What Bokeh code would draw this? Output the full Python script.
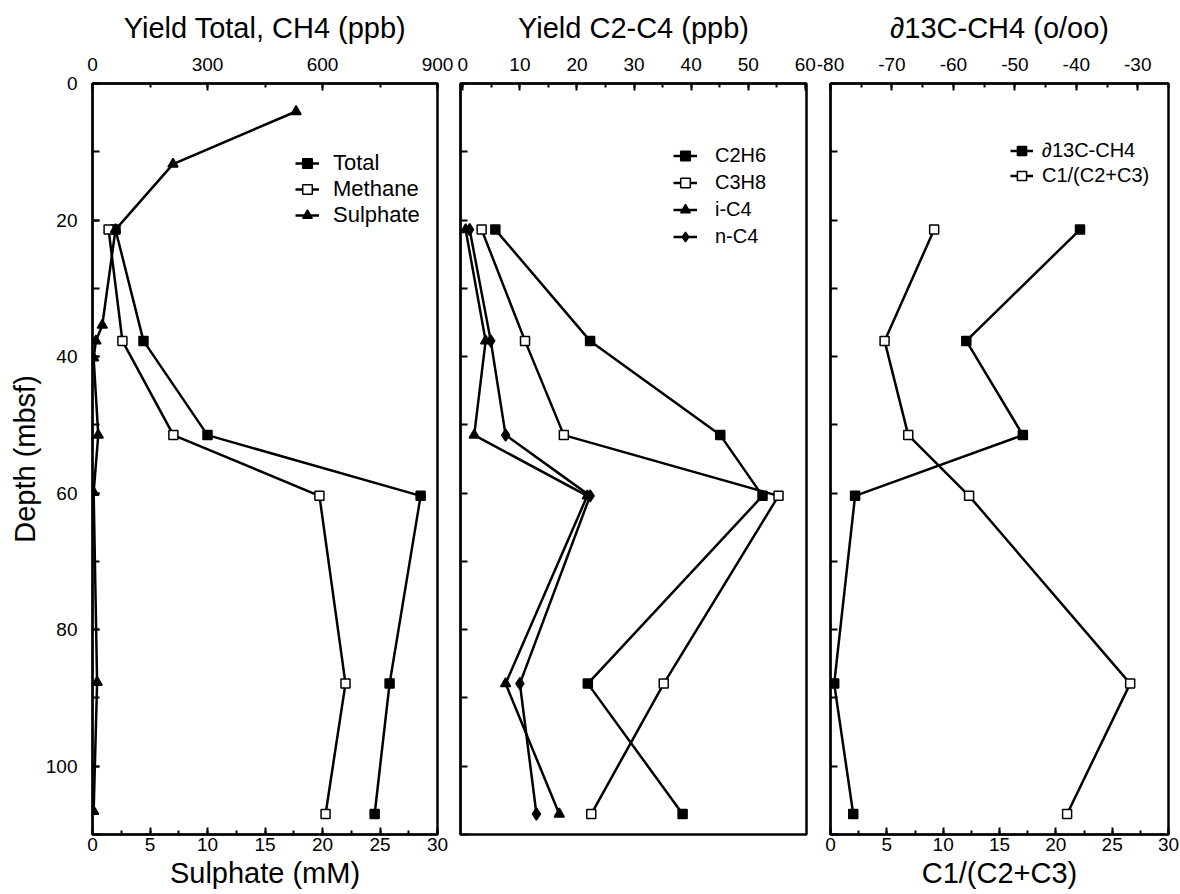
from bokeh.plotting import figure
from bokeh.layouts import row
from bokeh.models import (Range1d, LinearAxis, SingleIntervalTicker, Legend, LegendItem,
                          PrintfTickFormatter, CustomLabelingPolicy)
from bokeh.embed import file_html
from bokeh.resources import INLINE

FONT = "Liberation Sans"

# ---------------- data ----------------
gas_depth = [21.4, 37.7, 51.5, 60.4, 87.9, 107.0]          # mbsf
total_ppb = [60, 133, 300, 856, 775, 736]
methane_ppb = [42, 78, 211, 592, 660, 608]

sulphate_depth = [4.1, 11.8, 21.4, 35.4, 37.7, 40.2, 51.5, 59.9, 87.7, 106.6]
sulphate_mM = [17.7, 7.0, 2.0, 0.85, 0.3, 0.1, 0.5, 0.1, 0.4, 0.1]

c2h6 = [5.7, 22.3, 45.1, 52.5, 21.9, 38.5]
c3h8 = [3.3, 10.9, 17.7, 55.3, 35.2, 22.5]
ic4 = [0.5, 4.0, 2.0, 21.8, 7.5, 16.9]
nc4 = [1.2, 4.9, 7.5, 22.3, 10.0, 12.9]

d13c_ch4 = [-39.4, -57.9, -48.7, -76.0, -79.4, -76.3]
c1_c2c3 = [9.2, 4.8, 6.9, 12.3, 26.6, 21.0]

TITLES = ["Yield Total, CH4 (ppb)", "Yield C2-C4 (ppb)", "\u220213C-CH4 (o/oo)"]


def make_fig(width, left, right, x_range):
    p = figure(width=width, height=894, x_range=x_range, y_range=Range1d(110, 0),
               output_backend="svg", toolbar_location=None,
               x_axis_location=None, y_axis_location=None,
               min_border_left=left, min_border_right=right,
               min_border_top=83, min_border_bottom=60)
    p.grid.visible = False
    p.outline_line_color = "black"
    p.outline_line_width = 2.5
    p.background_fill_color = "white"
    p.border_fill_color = "white"
    return p


def style_axis(ax, tick_in=7, minor_in=4, label_size="19px"):
    ax.major_tick_in = tick_in
    ax.major_tick_out = 0
    ax.minor_tick_in = minor_in
    ax.minor_tick_out = 0
    ax.axis_line_width = 2
    ax.major_tick_line_width = 2
    ax.minor_tick_line_width = 2
    ax.major_label_text_font = FONT
    ax.major_label_text_font_size = label_size
    ax.major_label_text_color = "black"
    ax.axis_label_text_font = FONT
    ax.axis_label_text_font_size = "29px"
    ax.axis_label_text_font_style = "normal"
    ax.axis_label_text_color = "black"
    ax.formatter = PrintfTickFormatter(format="%d")


def top_axis(p, interval, label, range_name="default"):
    ax = LinearAxis(x_range_name=range_name,
                    ticker=SingleIntervalTicker(interval=interval, num_minor_ticks=2),
                    axis_label=label)
    style_axis(ax)
    ax.major_label_standoff = 13
    ax.axis_label_standoff = 11
    p.add_layout(ax, "above")


def bottom_axis(p, label):
    ax = LinearAxis(ticker=SingleIntervalTicker(interval=5, num_minor_ticks=2),
                    axis_label=label)
    style_axis(ax)
    ax.major_label_standoff = 3
    ax.axis_label_standoff = 3
    p.add_layout(ax, "below")


HIDE_ALL = CustomLabelingPolicy(code="""
const n = indices.size;
for (let i = 0; i < n; i++) indices.unset(i);
return indices;
""")


def depth_axis(p, labelled):
    if labelled:
        ax = LinearAxis(ticker=SingleIntervalTicker(interval=20, num_minor_ticks=2),
                        axis_label="Depth (mbsf)")
        style_axis(ax, tick_in=7, minor_in=7)
        ax.major_label_standoff = 15
        ax.axis_label_standoff = 2
    else:
        ax = LinearAxis(ticker=SingleIntervalTicker(interval=10, num_minor_ticks=0))
        style_axis(ax, tick_in=7, minor_in=0, label_size="1px")
        ax.major_label_standoff = 0
        ax.major_label_policy = HIDE_ALL
    p.add_layout(ax, "left")


def series(p, xs, ys, marker, fill, size, range_name="default"):
    ln = p.line(xs, ys, line_color="black", line_width=2.5, x_range_name=range_name)
    sc = p.scatter(xs, ys, marker=marker, size=size, fill_color=fill,
                   line_color="black", line_width=1.5, x_range_name=range_name)
    return [ln, sc]


def add_legend(p, items, x, y, font_size, gw, gh, standoff):
    leg = Legend(items=[LegendItem(label=lab, renderers=r) for lab, r in items],
                 location=(x, y), border_line_color=None, background_fill_alpha=0,
                 glyph_width=gw, glyph_height=gh, label_height=gh, spacing=0,
                 padding=0, margin=0, label_standoff=standoff,
                 label_text_font=FONT, label_text_font_size=font_size,
                 label_text_color="black")
    p.add_layout(leg)


# ---------------- panel 1 ----------------
p1 = make_fig(455, 92, 18, Range1d(0, 30))
p1.extra_x_ranges = {"ppb": Range1d(0, 900)}
top_axis(p1, 300, TITLES[0], "ppb")
bottom_axis(p1, "Sulphate (mM)")
depth_axis(p1, True)
r_tot = series(p1, total_ppb, gas_depth, "square", "black", 9, "ppb")
r_met = series(p1, methane_ppb, gas_depth, "square", "white", 9, "ppb")
r_sul = series(p1, sulphate_mM, sulphate_depth, "triangle", "black", 10)
add_legend(p1, [("Total", r_tot), ("Methane", r_met), ("Sulphate", r_sul)],
           203, 606, "22px", 24, 26, 14)

# ---------------- panel 2 ----------------
p2 = make_fig(361, 5, 10, Range1d(-0.4, 60.2))
top_axis(p2, 10, TITLES[1])
depth_axis(p2, False)
r_c2 = series(p2, c2h6, gas_depth, "square", "black", 9)
r_c3 = series(p2, c3h8, gas_depth, "square", "white", 9)
r_i4 = series(p2, ic4, gas_depth, "triangle", "black", 10)
r_n4 = series(p2, nc4, gas_depth, "diamond", "black", 12)
add_legend(p2, [("C2H6", r_c2), ("C3H8", r_c3), ("i-C4", r_i4), ("n-C4", r_n4)],
           213, 584, "20px", 24, 27, 18)

# ---------------- panel 3 ----------------
p3 = make_fig(364, 14, 12, Range1d(0, 30))
p3.extra_x_ranges = {"d13c": Range1d(-80, -25)}
top_axis(p3, 10, TITLES[2], "d13c")
bottom_axis(p3, "C1/(C2+C3)")
depth_axis(p3, False)
r_d13 = series(p3, d13c_ch4, gas_depth, "square", "black", 9, "d13c")
r_rat = series(p3, c1_c2c3, gas_depth, "square", "white", 9)
add_legend(p3, [("\u220213C-CH4", r_d13), ("C1/(C2+C3)", r_rat)],
           180, 646, "20px", 23, 25, 9)

layout = row(p1, p2, p3, spacing=0)
open("out.html", "w").write(file_html(layout, INLINE))
